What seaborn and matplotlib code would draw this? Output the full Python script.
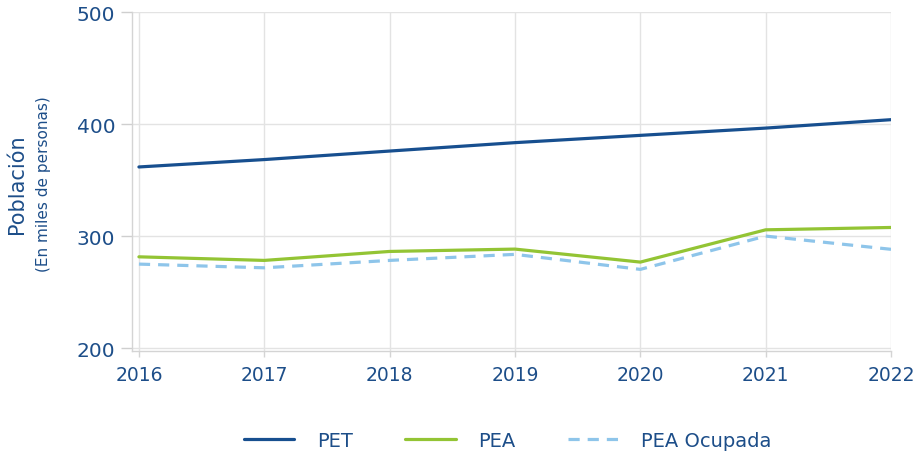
import matplotlib
matplotlib.use("Agg")
import matplotlib.pyplot as plt
from matplotlib.lines import Line2D
import seaborn as sns
import pandas as pd

years = [2016, 2017, 2018, 2019, 2020, 2021, 2022]
pet = [362, 368.6, 376.2, 383.7, 390.2, 396.7, 404.2]
pea = [281.8, 278.6, 286.6, 288.7, 277.1, 305.9, 308.0]
pea_ocupada = [275.3, 272.0, 278.6, 284.0, 270.6, 300.3, 288.5]
series_names = ["PET", "PEA", "PEA Ocupada"]
y_ticks = [200, 300, 400, 500]

df = pd.DataFrame({
    "year": years * 3,
    "value": pet + pea + pea_ocupada,
    "serie": [series_names[0]] * len(years) + [series_names[1]] * len(years) + [series_names[2]] * len(years),
})

sns.set_theme(style="white")
plt.rcParams["font.family"] = ["DejaVu Sans"]

text_color = "#1d4e89"
grid_color = "#e3e3e3"
palette = {"PET": "#174f8f", "PEA": "#93c434", "PEA Ocupada": "#8ec5ea"}
dashes = {"PET": "", "PEA": "", "PEA Ocupada": (3.5, 2.5)}

fig = plt.figure(figsize=(9.15, 4.6), dpi=100)
ax = fig.add_axes([0.1443, 0.2354, 0.8295, 0.7356])

sns.lineplot(data=df, x="year", y="value", hue="serie", style="serie",
             palette=palette, dashes=dashes, linewidth=2.3, ax=ax, legend=False)

ax.set_xlim(2015.945, 2022)
ax.set_ylim(198, 500)
ax.set_xticks(years)
ax.set_xticklabels([str(y) for y in years])
ax.set_yticks(y_ticks)

ax.grid(True, color=grid_color, linewidth=1)
ax.set_axisbelow(True)
for s in ["top", "right"]:
    ax.spines[s].set_visible(False)
for s in ["left", "bottom"]:
    ax.spines[s].set_color("#d4d4d4")
    ax.spines[s].set_linewidth(1)

ax.tick_params(axis="y", left=True, colors="#cfcfcf", labelcolor=text_color,
               labelsize=14.5, length=8, width=1, direction="out", pad=4)
ax.tick_params(axis="x", bottom=True, colors="#d4d4d4", labelcolor=text_color,
               labelsize=13.5, length=4, width=1, direction="out", pad=6)
ax.set_xlabel("")
ax.set_ylabel("")

fig.text(0.019, 0.6, "Población", rotation=90, ha="center", va="center",
         fontsize=15, color=text_color)
fig.text(0.047, 0.6, "(En miles de personas)", rotation=90, ha="center", va="center",
         fontsize=11, color=text_color)

handles = [Line2D([0], [0], color=palette[n], linewidth=2.3,
                  linestyle=(0, dashes[n]) if dashes[n] else "-") for n in series_names]
leg = fig.legend(handles, series_names, loc="center", bbox_to_anchor=(0.5545, 0.04),
                 ncol=3, frameon=False, fontsize=14, handlelength=2.6,
                 handletextpad=1.15, columnspacing=2.7)
for t in leg.get_texts():
    t.set_color(text_color)

fig.savefig("out.png", dpi=100)
